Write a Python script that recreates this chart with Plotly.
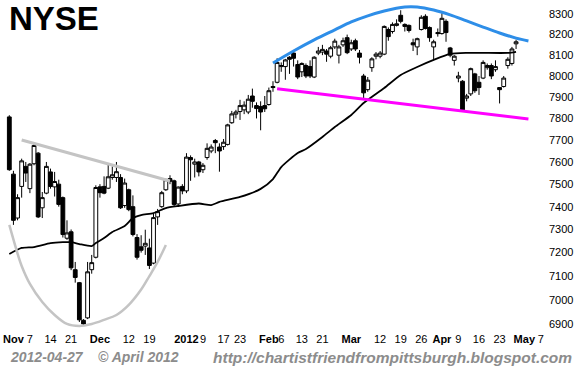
import math
import pandas as pd
import plotly.graph_objects as go

# ---------------- data ----------------
holidays = ["2011-11-24", "2011-12-26", "2012-01-02", "2012-01-16", "2012-02-20", "2012-04-06"]
calendar = [d.strftime("%Y-%m-%d") for d in pd.bdate_range("2011-10-31", "2012-05-08")
            if d.strftime("%Y-%m-%d") not in holidays]
pos = {d: i for i, d in enumerate(calendar)}
dates = calendar[:calendar.index("2012-04-27") + 1]

open_ = [7807, 7545, 7350, 7490, 7580, 7480, 7592, 7640, 7395, 7460,
         7555, 7488, 7500, 7440, 7262, 7290, 7127, 7072, 6915, 6925,
         7127, 7180, 7488, 7490, 7482, 7530, 7530, 7530, 7405, 7475,
         7400, 7265, 7225, 7228, 7220, 7155, 7355, 7400, 7475, 7525,
         7515, 7412, 7490, 7470, 7620, 7590, 7600, 7565, 7620, 7650,
         7698, 7668, 7670, 7680, 7780, 7820, 7832, 7840, 7830, 7905,
         7860, 7856, 7860, 7865, 7950, 7970, 8045, 8045, 8090, 8110,
         8055, 8020, 8050, 8045, 7995, 8110, 8115, 8120, 8095, 8140,
         8100, 8150, 8185, 8130, 8170, 8110, 8000, 7935, 8040, 8095,
         8095, 8105, 8225, 8215, 8245, 8295, 8250, 8245, 8160, 8140,
         8225, 8290, 8235, 8140, 8210, 8205, 8265, 8135, 8075, 7990,
         7975, 7895, 7915, 8010, 7970, 7990, 8040, 8050, 8030, 7945,
         7950, 8050, 8060, 8155]
high = [7815, 7560, 7455, 7615, 7600, 7595, 7685, 7645, 7465, 7600,
        7570, 7555, 7520, 7445, 7340, 7300, 7160, 7075, 6920, 7160,
        7190, 7495, 7500, 7535, 7590, 7580, 7600, 7545, 7525, 7480,
        7450, 7280, 7275, 7299, 7260, 7370, 7390, 7470, 7525, 7540,
        7520, 7490, 7500, 7640, 7630, 7615, 7605, 7595, 7685, 7680,
        7705, 7685, 7705, 7775, 7835, 7840, 7887, 7880, 7910, 7940,
        7875, 7880, 7905, 7945, 7975, 8085, 8065, 8082, 8095, 8125,
        8075, 8065, 8060, 8075, 8095, 8140, 8150, 8130, 8145, 8180,
        8150, 8185, 8200, 8175, 8180, 8125, 8010, 7995, 8090, 8115,
        8120, 8245, 8235, 8260, 8275, 8320, 8255, 8250, 8180, 8185,
        8295, 8300, 8240, 8175, 8230, 8305, 8275, 8140, 8100, 8020,
        7980, 7915, 8040, 8015, 8000, 8075, 8060, 8060, 8075, 7945,
        8000, 8090, 8140, 8175]
low = [7560, 7320, 7340, 7440, 7510, 7460, 7585, 7350, 7350, 7455,
       7480, 7445, 7400, 7265, 7255, 7125, 7072, 6908, 6893, 6920,
       7110, 7175, 7440, 7455, 7478, 7520, 7510, 7390, 7395, 7380,
       7270, 7170, 7200, 7190, 7130, 7150, 7320, 7395, 7470, 7500,
       7400, 7405, 7455, 7460, 7515, 7530, 7535, 7550, 7610, 7640,
       7640, 7556, 7655, 7675, 7775, 7800, 7793, 7820, 7820, 7850,
       7800, 7745, 7830, 7860, 7925, 7965, 8020, 7982, 8010, 8045,
       7985, 7995, 7990, 7990, 7990, 8100, 8100, 8068, 8085, 8130,
       8060, 8140, 8105, 8120, 8120, 8060, 7895, 7925, 8020, 8080,
       8085, 8100, 8170, 8205, 8240, 8255, 8215, 8210, 8120, 8100,
       8220, 8225, 8165, 8075, 8190, 8200, 8165, 8090, 8050, 7970,
       7835, 7880, 7905, 7920, 7910, 7985, 8030, 7985, 8020, 7870,
       7945, 8035, 8050, 8130]
close = [7565, 7340, 7440, 7605, 7550, 7590, 7675, 7355, 7440, 7580,
         7490, 7512, 7410, 7278, 7285, 7135, 7094, 6917, 6900, 7118,
         7157, 7485, 7462, 7460, 7533, 7542, 7556, 7395, 7505, 7387,
         7278, 7180, 7210, 7240, 7145, 7352, 7378, 7462, 7520, 7513,
         7410, 7487, 7470, 7622, 7610, 7600, 7555, 7585, 7662, 7668,
         7688, 7650, 7690, 7770, 7821, 7830, 7860, 7862, 7890, 7880,
         7846, 7830, 7845, 7930, 7945, 8065, 8050, 8077, 8080, 8085,
         7995, 8060, 8000, 8000, 8090, 8120, 8128, 8105, 8136, 8168,
         8140, 8170, 8112, 8160, 8130, 8090, 7920, 7980, 8082, 8105,
         8110, 8240, 8190, 8250, 8253, 8265, 8240, 8220, 8150, 8180,
         8285, 8230, 8185, 8165, 8205, 8280, 8210, 8100, 8095, 8000,
         7840, 7905, 8035, 7930, 7945, 8065, 8050, 8000, 8045, 7935,
         7990, 8080, 8130, 8165]

ma_dates = ["2011-10-31", "2011-11-03", "2011-11-08", "2011-11-14", "2011-11-17", "2011-11-21",
            "2011-11-23", "2011-11-29", "2011-11-30", "2011-12-02", "2011-12-06", "2011-12-09",
            "2011-12-13", "2011-12-15", "2011-12-20", "2011-12-23", "2011-12-29", "2012-01-06",
            "2012-01-11", "2012-01-13", "2012-01-23", "2012-01-30", "2012-02-02", "2012-02-06",
            "2012-02-10", "2012-02-14", "2012-02-21", "2012-02-24", "2012-03-01", "2012-03-06",
            "2012-03-13", "2012-03-19", "2012-03-23", "2012-03-29", "2012-04-04", "2012-04-11",
            "2012-04-17", "2012-04-25", "2012-04-27"]
ma_values = [7194, 7220, 7224, 7241, 7245, 7245,
             7237, 7228, 7241, 7263, 7289, 7315,
             7350, 7363, 7372, 7394, 7403, 7414,
             7407, 7421, 7443, 7479, 7523, 7577,
             7641, 7659, 7714, 7760, 7816, 7872,
             7943, 8005, 8043, 8077, 8106, 8111,
             8111, 8111, 8116]

resist_dates = ["2011-11-03", "2011-12-27"]
resist_values = [7700, 7514]

cup_dates = ["2011-10-31", "2011-11-02", "2011-11-03", "2011-11-07", "2011-11-10", "2011-11-15",
             "2011-11-18", "2011-11-23", "2011-11-29", "2011-12-02", "2011-12-07", "2011-12-12",
             "2011-12-15", "2011-12-19", "2011-12-21", "2011-12-23"]
cup_values = [7320, 7196, 7143, 7067, 6991, 6937, 6900, 6892, 6900, 6917, 6937, 6979,
              7043, 7100, 7160, 7233]

top_dates = ["2012-02-02", "2012-02-09", "2012-02-16", "2012-02-24", "2012-03-01", "2012-03-07",
             "2012-03-13", "2012-03-20", "2012-03-23", "2012-03-29", "2012-04-04", "2012-04-11",
             "2012-04-17", "2012-04-23", "2012-04-27", "2012-05-02"]
top_values = [8062, 8120, 8174, 8223, 8262, 8292, 8316, 8336, 8336, 8321, 8297, 8267,
              8237, 8208, 8183, 8169]

support_dates = ["2012-02-03", "2012-05-02"]
support_values = [7939, 7797]

tick_dates = ["2011-11-01", "2011-11-07", "2011-11-14", "2011-11-21", "2011-12-01", "2011-12-12",
              "2011-12-19", "2012-01-03", "2012-01-09", "2012-01-17", "2012-01-23", "2012-02-01",
              "2012-02-06", "2012-02-13", "2012-02-21", "2012-03-01", "2012-03-12", "2012-03-19",
              "2012-03-26", "2012-04-02", "2012-04-09", "2012-04-16", "2012-04-23", "2012-05-01",
              "2012-05-07"]
tick_text = ["<b>Nov</b>", "7", "14", "21", "<b>Dec</b>", "12", "19", "<b>2012</b>", "9", "17",
             "23", "<b>Feb</b>", "6", "13", "21", "<b>Mar</b>", "12", "19", "26", "<b>Apr</b>",
             "9", "16", "23", "<b>May</b>", "7"]
y_ticks = [6900, 7000, 7100, 7200, 7300, 7400, 7500, 7600, 7700, 7800, 7900, 8000, 8100, 8200, 8300]

title_text = "NYSE"
date_text = "2012-04-27"
copy_text = "© April 2012"
url_text = "http://chartistfriendfrompittsburgh.blogspot.com"

# ---------------- figure ----------------
W, H = 580, 369
ML, MR, MT, MB = 0, 32, 0, 38
PW, PH = W - ML - MR, H - MT - MB
FONT = "Liberation Sans, Arial, sans-serif"
GRAY = "#8c8c8c"


def px(xp):
    return (xp - ML) / PW


def py(yp):
    return (H - MB - yp) / PH


def P(ds):
    return [pos[d] for d in ds]


fig = go.Figure()

fig.add_trace(go.Candlestick(
    x=P(dates), open=open_, high=high, low=low, close=close,
    increasing=dict(line=dict(color="black", width=1), fillcolor="white"),
    decreasing=dict(line=dict(color="black", width=1), fillcolor="black"),
    whiskerwidth=0, showlegend=False, hoverinfo="skip"))

fig.add_trace(go.Scatter(x=P(ma_dates), y=ma_values, mode="lines",
                         line=dict(color="black", width=1.8, shape="spline", smoothing=0.6),
                         hoverinfo="skip"))
fig.add_trace(go.Scatter(x=P(resist_dates), y=resist_values, mode="lines",
                         line=dict(color="#c4c4c4", width=3), hoverinfo="skip"))
fig.add_trace(go.Scatter(x=P(cup_dates), y=cup_values, mode="lines",
                         line=dict(color="#c4c4c4", width=2.5, shape="spline", smoothing=1),
                         hoverinfo="skip"))
fig.add_trace(go.Scatter(x=P(top_dates), y=top_values, mode="lines",
                         line=dict(color="#2e8ee8", width=3, shape="spline", smoothing=1),
                         hoverinfo="skip"))
fig.add_trace(go.Scatter(x=P(support_dates), y=support_values, mode="lines",
                         line=dict(color="#ff00ff", width=3), hoverinfo="skip"))

x0 = pos["2011-10-31"] - 2.26
x1 = pos["2012-05-07"] + 1.75

fig.update_layout(
    width=W, height=H,
    margin=dict(l=ML, r=MR, t=MT, b=MB, pad=0),
    paper_bgcolor="white", plot_bgcolor="white",
    showlegend=False, boxgap=0.08, boxgroupgap=0,
    font=dict(family=FONT, size=11, color="black"),
    xaxis=dict(range=[x0, x1], tickvals=P(tick_dates), ticktext=tick_text, tickangle=0,
               ticks="", showgrid=False, zeroline=False, showline=False,
               rangeslider=dict(visible=False), tickfont=dict(family=FONT, size=11, color="black")),
    yaxis=dict(type="log", range=[math.log10(6871), math.log10(8371)], side="right",
               tickvals=y_ticks, ticktext=[str(v) for v in y_ticks], ticks="",
               showgrid=False, zeroline=False, showline=False,
               tickfont=dict(family=FONT, size=11, color="black")),
)

fig.add_annotation(text="<b>" + title_text + "</b>", x=px(7), y=py(19), xref="paper", yref="paper",
                   xanchor="left", yanchor="middle", showarrow=False,
                   font=dict(family=FONT, size=33, color="black"))
fig.add_annotation(text="<b><i>" + date_text + "</i></b>", x=px(8), y=py(357), xref="paper", yref="paper",
                   xanchor="left", yanchor="middle", showarrow=False,
                   font=dict(family=FONT, size=14, color=GRAY))
fig.add_annotation(text="<b><i>" + copy_text + "</i></b>", x=px(96), y=py(357), xref="paper", yref="paper",
                   xanchor="left", yanchor="middle", showarrow=False,
                   font=dict(family=FONT, size=14, color=GRAY))
fig.add_annotation(text="<b><i>" + url_text + "</i></b>", x=px(574), y=py(357), xref="paper", yref="paper",
                   xanchor="right", yanchor="middle", showarrow=False,
                   font=dict(family=FONT, size=15.5, color=GRAY))

fig.write_html("out.html")
